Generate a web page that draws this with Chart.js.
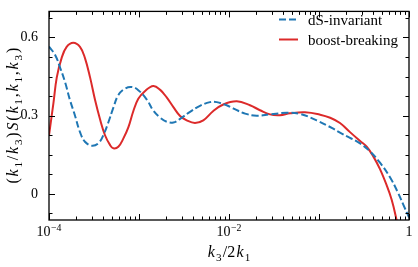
<!DOCTYPE html>
<html>
<head>
<meta charset="utf-8">
<script src="https://cdn.jsdelivr.net/npm/chart.js@4.4.1/dist/chart.umd.min.js"></script>
<style>
html, body { margin: 0; padding: 0; background: #fff; }
</style>
</head>
<body>
<canvas id="c" width="418" height="267"></canvas>
<script>
// k3/2k1 positions and shape values
const dsK = [1.00e-4, 1.17e-4, 1.33e-4, 1.51e-4, 1.71e-4, 1.95e-4, 2.21e-4, 2.51e-4, 2.98e-4, 3.53e-4,
  4.01e-4, 4.56e-4, 5.18e-4, 5.89e-4, 6.99e-4, 8.30e-4, 9.82e-4, 1.22e-3, 1.44e-3, 1.71e-3,
  2.03e-3, 2.41e-3, 2.86e-3, 3.69e-3, 4.76e-3, 6.15e-3, 7.30e-3, 9.43e-3, 1.11e-2, 1.51e-2,
  2.03e-2, 2.86e-2, 4.38e-2, 6.15e-2, 9.43e-2, 0.144, 0.171, 0.221, 0.286, 0.369,
  0.476, 0.615, 0.761, 0.864, 1.0]
const dsS = [0.565, 0.533, 0.484, 0.428, 0.360, 0.299, 0.237, 0.200, 0.185, 0.194,
  0.225, 0.274, 0.330, 0.379, 0.404, 0.410, 0.398, 0.362, 0.320, 0.293,
  0.277, 0.274, 0.288, 0.315, 0.338, 0.352, 0.352, 0.340, 0.328, 0.308,
  0.300, 0.305, 0.311, 0.307, 0.282, 0.250, 0.235, 0.215, 0.194, 0.163,
  0.120, 0.064, 0.002, -0.041, -0.090]

const bbK = [1.00e-4, 1.12e-4, 1.22e-4, 1.38e-4, 1.57e-4, 1.86e-4, 2.21e-4, 2.51e-4, 2.86e-4, 3.25e-4,
  3.69e-4, 4.19e-4, 4.76e-4, 5.18e-4, 5.89e-4, 6.69e-4, 7.61e-4, 8.64e-4, 9.82e-4, 1.17e-3,
  1.44e-3, 1.71e-3, 2.03e-3, 2.41e-3, 2.86e-3, 3.39e-3, 4.19e-3, 5.18e-3, 6.69e-3, 8.64e-3,
  1.22e-2, 1.71e-2, 2.21e-2, 2.86e-2, 3.69e-2, 4.76e-2, 6.99e-2, 0.103, 0.133, 0.171,
  0.221, 0.286, 0.339, 0.401, 0.476, 0.565, 0.642, 0.717, 0.774]
const bbS = [0.225, 0.348, 0.447, 0.521, 0.564, 0.580, 0.564, 0.521, 0.447, 0.360,
  0.286, 0.225, 0.188, 0.175, 0.181, 0.212, 0.255, 0.317, 0.365, 0.395,
  0.414, 0.400, 0.370, 0.333, 0.299, 0.282, 0.272, 0.282, 0.318, 0.343,
  0.355, 0.340, 0.321, 0.305, 0.302, 0.309, 0.313, 0.304, 0.292, 0.272,
  0.237, 0.203, 0.181, 0.144, 0.095, 0.033, -0.022, -0.090, -0.150]

const seriesLabels = ['dS-invariant', 'boost-breaking']

// ticks
const yTickValues = [-0.075, 0, 0.075, 0.15, 0.225, 0.3, 0.375, 0.45, 0.525, 0.6, 0.675]
const yMajor = [0, 0.3, 0.6]
const yLabels = ['0', '0.3', '0.6']
const xTickValues = []
for (let e = -4; e < 0; e++) {
  for (let m = 1; m < 10; m++) xTickValues.push(m * Math.pow(10, e))
}
xTickValues.push(1)
const xMajor = [1e-4, 1e-3, 1e-2, 1e-1, 1]
const xLabelValues = [1e-4, 1e-2, 1]
const xLabelExps = ['\u22124', '\u22122', '']

const serif = "'Liberation Serif', 'DejaVu Serif', serif"
const near = (a, b) => Math.abs(a - b) < 1e-9 * Math.max(1, Math.abs(b)) + 1e-12

function drawMath(ctx, parts, cx, baseY, size, gap) {
  const fonts = {
    i: 'italic ' + size + 'px ' + serif,
    r: size + 'px ' + serif,
    s: (size * 0.7) + 'px ' + serif,
    p: (size * 0.7) + 'px ' + serif
  }
  const widths = parts.map(function (p) {
    ctx.font = fonts[p[1]]
    return ctx.measureText(p[0]).width
  })
  const total = widths.reduce((a, b) => a + b, 0) + gap * (parts.length - 1)
  let px = cx - total / 2
  ctx.textAlign = 'left'
  ctx.textBaseline = 'alphabetic'
  parts.forEach(function (p, i) {
    ctx.font = fonts[p[1]]
    let dy = 0
    if (p[1] == 's') dy = size * 0.22
    if (p[1] == 'p') dy = -size * 0.38
    ctx.fillText(p[0], px, baseY + dy)
    px += widths[i] + gap
  })
}

const axisPlugin = {
  id: 'axisPlugin',
  afterDatasetsDraw(chart) {
    const ctx = chart.ctx
    const a = chart.chartArea
    const x = chart.scales.x
    const y = chart.scales.y
    ctx.save()
    ctx.strokeStyle = '#000'
    ctx.fillStyle = '#000'

    // inward ticks on all four sides
    ctx.lineWidth = 1
    ctx.beginPath()
    xTickValues.forEach(function (v) {
      const px = Math.round(x.getPixelForValue(v)) + 0.5
      const len = xMajor.some(m => near(v, m)) ? 6 : 3.5
      ctx.moveTo(px, a.bottom); ctx.lineTo(px, a.bottom - len)
      ctx.moveTo(px, a.top); ctx.lineTo(px, a.top + len)
    })
    yTickValues.forEach(function (v) {
      const py = Math.round(y.getPixelForValue(v)) + 0.5
      const len = yMajor.some(m => near(v, m)) ? 6 : 3.5
      ctx.moveTo(a.left, py); ctx.lineTo(a.left + len, py)
      ctx.moveTo(a.right, py); ctx.lineTo(a.right - len, py)
    })
    ctx.stroke()

    ctx.lineWidth = 1.3
    ctx.strokeRect(a.left, a.top, a.right - a.left, a.bottom - a.top)

    // x tick labels with superscripts
    xLabelValues.forEach(function (v, i) {
      const px = x.getPixelForValue(v)
      if (xLabelExps[i]) {
        drawMath(ctx, [['10', 'r'], [xLabelExps[i], 'p']], px, 236, 14, 0.5)
      } else {
        drawMath(ctx, [['1', 'r']], px, 236, 14, 0)
      }
    })

    // axis titles
    drawMath(ctx, [['k', 'i'], ['3', 's'], ['/2', 'r'], ['k', 'i'], ['1', 's']],
      (a.left + a.right) / 2, 257, 16, 1.2)
    ctx.save()
    ctx.translate(13, (a.top + a.bottom) / 2)
    ctx.rotate(-Math.PI / 2)
    drawMath(ctx, [['(', 'r'], ['k', 'i'], ['1', 's'], ['/', 'r'], ['k', 'i'], ['3', 's'], [')', 'r'],
      ['S', 'i'], ['(', 'r'], ['k', 'i'], ['1', 's'], [',', 'r'], ['k', 'i'], ['1', 's'], [',', 'r'],
      ['k', 'i'], ['3', 's'], [')', 'r']], 0, 5, 16, 1.8)
    ctx.restore()

    // legend
    ctx.font = '15px ' + serif
    ctx.textAlign = 'left'
    ctx.textBaseline = 'alphabetic'
    chart.data.datasets.forEach(function (ds, i) {
      const ly = 19.5 + i * 20
      ctx.save()
      ctx.strokeStyle = ds.borderColor
      ctx.lineWidth = ds.borderWidth
      ctx.setLineDash(ds.borderDash || [])
      ctx.beginPath()
      ctx.moveTo(279, ly); ctx.lineTo(298, ly)
      ctx.stroke()
      ctx.restore()
      ctx.fillText(ds.label, 308, ly + 5.5)
    })
    ctx.restore()
  }
}

const canvas = document.getElementById('c')
const chart = new Chart(canvas, {
  type: 'line',
  data: {
    datasets: [{
      label: seriesLabels[0],
      data: dsK.map((k, i) => ({ x: k, y: dsS[i] })),
      borderColor: '#1f77b4',
      borderWidth: 2,
      borderDash: [7, 3],
      pointRadius: 0,
      fill: false,
      tension: 0.4,
      clip: 0
    }, {
      label: seriesLabels[1],
      data: bbK.map((k, i) => ({ x: k, y: bbS[i] })),
      borderColor: '#dc2a2a',
      borderWidth: 2,
      pointRadius: 0,
      fill: false,
      tension: 0.4,
      clip: 0
    }]
  },
  options: {
    responsive: false,
    animation: false,
    devicePixelRatio: 1,
    layout: { padding: { top: 4, right: 9, left: 0, bottom: 0 } },
    plugins: { legend: { display: false }, tooltip: { enabled: false } },
    scales: {
      x: {
        type: 'logarithmic',
        min: 1e-4,
        max: 1,
        grid: { display: false },
        border: { display: false },
        ticks: { display: false },
        afterBuildTicks: s => { s.ticks = xTickValues.map(v => ({ value: v })) },
        afterFit: s => { s.height = 47 }
      },
      y: {
        min: -0.1,
        max: 0.7,
        grid: { display: false },
        border: { display: false },
        afterBuildTicks: s => { s.ticks = yTickValues.map(v => ({ value: v })) },
        ticks: {
          autoSkip: false,
          padding: 3,
          color: '#000',
          font: { family: serif, size: 14 },
          callback: function (v) {
            const i = yMajor.findIndex(m => near(v, m))
            return i >= 0 ? yLabels[i] : ''
          }
        },
        afterFit: s => { s.width = 49 }
      }
    }
  },
  plugins: [axisPlugin]
})
</script>
</body>
</html>
